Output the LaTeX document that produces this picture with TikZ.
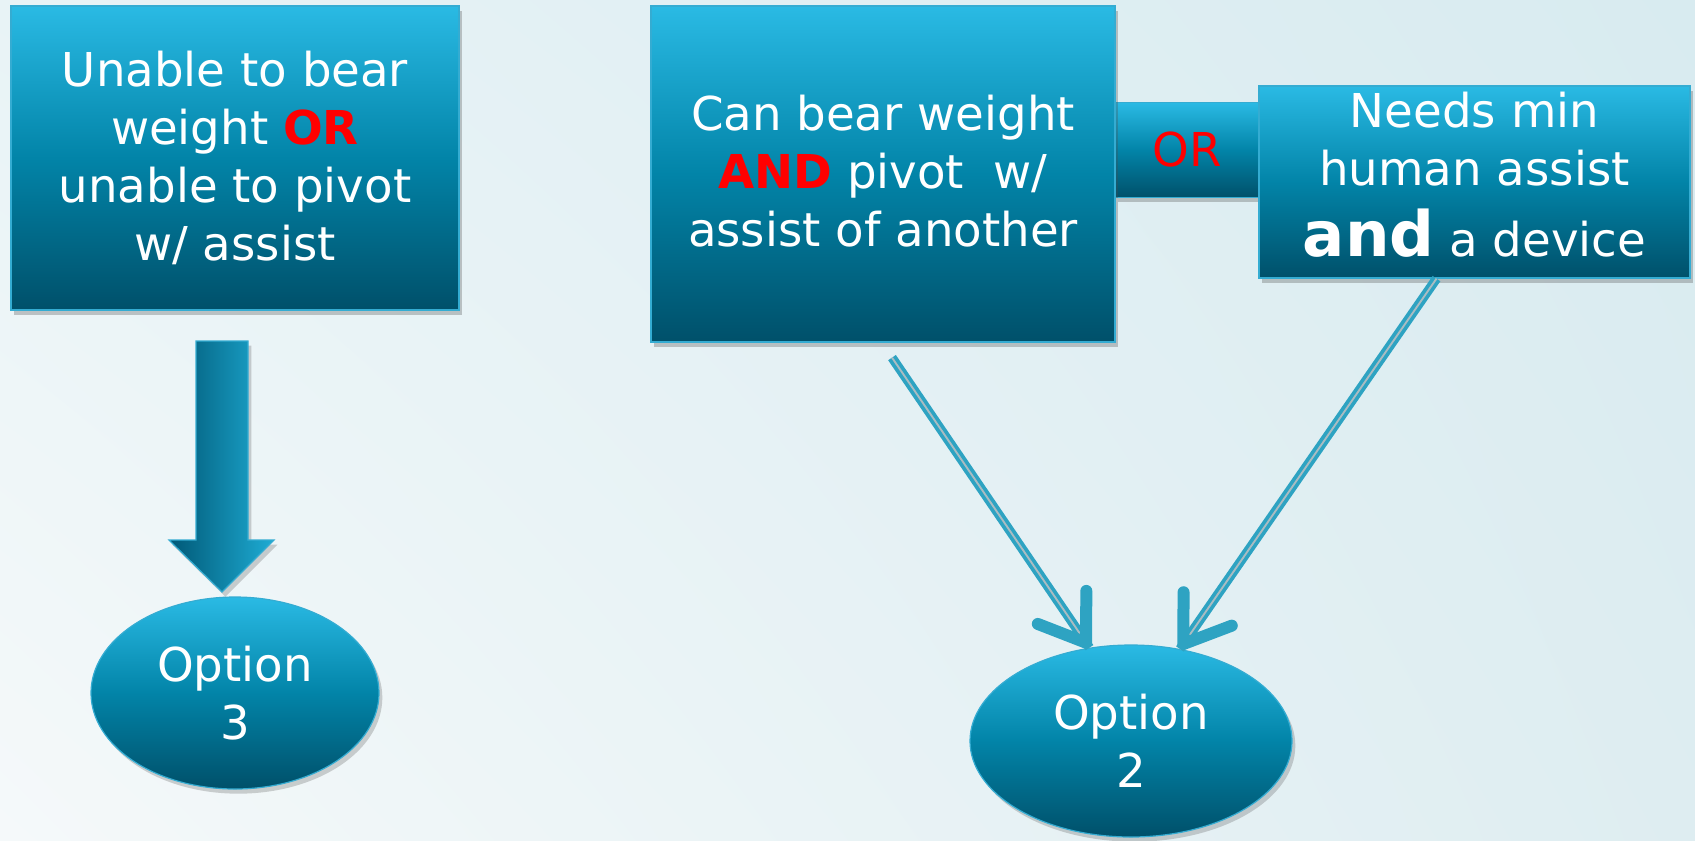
\documentclass[tikz,border=0pt]{standalone}
\usepackage{fontspec}
\setmainfont{DejaVu Sans}
\usetikzlibrary{calc,shapes.geometric,arrows.meta,shadows,shadings}

% palette
\definecolor{bgUL}{RGB}{232,243,246}
\definecolor{bgUR}{RGB}{216,235,240}
\definecolor{bgLL}{RGB}{245,249,250}
\definecolor{bgLR}{RGB}{222,237,241}
\definecolor{boxtop}{RGB}{42,186,228}
\definecolor{boxmid}{RGB}{2,132,168}
\definecolor{boxbot}{RGB}{0,80,106}
\definecolor{boxedge}{RGB}{52,172,210}
\definecolor{arrdark}{RGB}{0,88,118}
\definecolor{arrlight}{RGB}{30,172,212}
\definecolor{linkc}{RGB}{46,163,194}
\definecolor{linkgap}{RGB}{170,188,194}
\definecolor{hot}{RGB}{255,0,0}

\newcommand\mainsize{\fontsize{35pt}{43.5pt}\selectfont}
\newcommand\bigsize{\fontsize{47pt}{43.5pt}\selectfont}

\tikzset{
  panel/.style={rectangle, draw=boxedge, line width=0.9pt,
    top color=boxtop, bottom color=boxbot, middle color=boxmid,
    inner sep=0pt, align=center, text=white, font=\mainsize,
    drop shadow={shadow xshift=2.5pt, shadow yshift=-3.5pt, opacity=0.3, fill=black!70}},
  paneltext/.style={inner sep=0pt, align=center, text=white, font=\mainsize},
  oval/.style={ellipse, draw=boxedge, line width=0.9pt,
    top color=boxtop, bottom color=boxbot, middle color=boxmid,
    inner sep=0pt, align=center, text=white, font=\mainsize,
    drop shadow={shadow xshift=2.5pt, shadow yshift=-3.5pt, opacity=0.25, fill=black!70}},
  blockarrow/.style={draw=boxedge, line width=0.9pt, left color=arrdark, right color=arrlight,
    drop shadow={shadow xshift=2.5pt, shadow yshift=-3.5pt, opacity=0.25, fill=black!70}},
  flowline/.style={draw=linkc, double=linkgap, double distance=1.4pt, line width=2.8pt},
  flowtip/.style={draw=linkc, line width=7pt,
    -{Straight Barb[length=32pt, width=44pt, line width=9pt, round]}},
}

\begin{document}
\begin{tikzpicture}[x=0.75pt, y=-0.75pt]
  \useasboundingbox (0,0) rectangle (1695,840);
  \shade[upper left=bgUL, upper right=bgUR, lower left=bgLL, lower right=bgLR]
    (0,0) rectangle (1695,840);

  % decision boxes
  \node[panel, minimum width=336pt, minimum height=228pt] (cant) at (235,158)
    {Unable to bear\\ weight \textcolor{hot}{\bfseries OR}\\ unable to pivot\\ w/ assist};
  \node[panel, minimum width=108pt, minimum height=71.25pt, text=hot] (or) at (1187,150) {OR};
  \node[panel, minimum width=348pt, minimum height=252pt] (can) at (883,174) {};
  \node[paneltext] (cantext) at ($(can.center)+(0,-3)$)
    {Can bear weight\\ \textcolor{hot}{\bfseries AND} pivot~ w/\\ assist of another};
  \node[panel, minimum width=323.25pt, minimum height=144pt] (needs) at (1474.5,182) {};
  \node[paneltext] (needstext) at ($(needs.center)+(0,-7)$)
    {Needs min\\ human assist\\[10pt] {\bigsize\bfseries and} a device};

  % outcomes
  \node[oval, minimum width=216pt, minimum height=144pt] (opt3) at (235,693) {Option\\ 3};
  \node[oval, minimum width=241.5pt, minimum height=144pt] (opt2) at (1131,741) {Option\\ 2};

  % broad arrow to option 3
  \path[blockarrow] (196,341) -- (248,341) -- (248,540) -- (274,540) -- (222,592)
    -- (169,540) -- (196,540) -- cycle;

  % thin arrows to option 2
  \coordinate (a1) at ($(can.south)+(9,15)$);
  \coordinate (a2) at ($(needs.south)+(-38,0)$);
  \draw[flowline] (a1) -- (opt2.114);
  \draw[flowtip] ($(opt2.114)!5pt!(a1)$) -- (opt2.114);
  \draw[flowline] (a2) -- (opt2.62);
  \draw[flowtip] ($(opt2.62)!5pt!(a2)$) -- (opt2.62);
\end{tikzpicture}
\end{document}
